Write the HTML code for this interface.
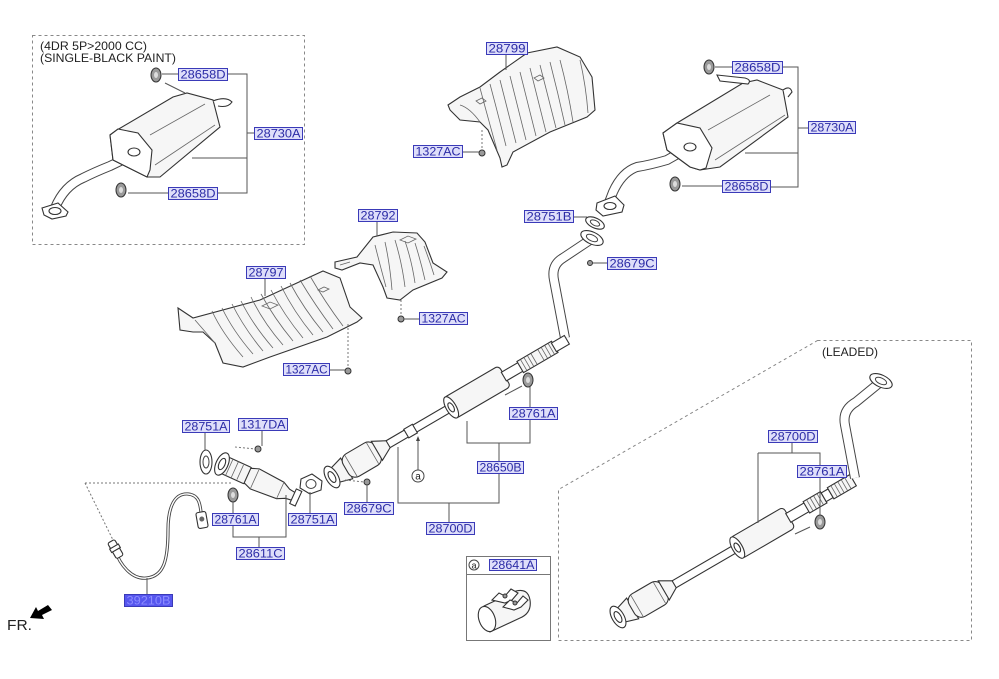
<!DOCTYPE html>
<html><head><meta charset="utf-8"><style>
html,body{margin:0;padding:0;background:#fff;}
svg{display:block;}
.lb rect{fill:#dedefa;stroke:#3a3ab8;stroke-width:1;}
.lb text{font-family:"Liberation Sans",sans-serif;font-size:12px;fill:#2b2ba6;text-anchor:middle;}
.ln{stroke:#555;stroke-width:1;fill:none;}
.dl{stroke:#777;stroke-width:1;fill:none;stroke-dasharray:2,2;}
.bx{stroke:#888;stroke-width:1;fill:none;stroke-dasharray:3,3;}
.p{fill:#f6f6f6;stroke:#333;stroke-width:1.1;}
.pw{fill:#fff;stroke:#333;stroke-width:1.1;}
.rb{fill:none;stroke:#666;stroke-width:0.8;}
.g{fill:#9a9a9a;stroke:#333;stroke-width:1;}
.t{font-family:"Liberation Sans",sans-serif;fill:#222;}
</style></head><body>
<svg width="999" height="679" viewBox="0 0 999 679" xmlns="http://www.w3.org/2000/svg">

<!-- Top-left dashed box -->
<rect class="bx" x="32.5" y="35.5" width="272" height="209"/>
<text class="t" x="40" y="50" font-size="12" textLength="107" lengthAdjust="spacingAndGlyphs">(4DR 5P&gt;2000 CC)</text>
<text class="t" x="40" y="62" font-size="12" textLength="136" lengthAdjust="spacingAndGlyphs">(SINGLE-BLACK PAINT)</text>

<!-- Left muffler -->
<path d="M137,153 L110,166 Q95,172 83,178 Q64,186 55,208" fill="none" stroke="#444" stroke-width="10" stroke-linecap="round"/>
<path d="M137,153 L110,166 Q95,172 83,178 Q64,186 55,208" fill="none" stroke="#fff" stroke-width="8" stroke-linecap="round"/>
<path class="pw" d="M42,208 L58,203 L68,212 L66,216 L52,219 L44,215 Z"/>
<ellipse class="pw" cx="55" cy="211" rx="6" ry="3.5"/>
<path class="p" d="M110,135 L117,130 L173,97 L187,93 L213,100 L220,127 L160,177 L147,177 L113,160 Z"/>
<path class="pw" d="M110,135 L118,129 L138,133 L152,150 L150,170 L147,177 L113,160 Z"/>
<ellipse class="pw" cx="134" cy="152" rx="6" ry="4"/>
<path class="rb" d="M150,135 L205,104 M155,165 L215,125"/>
<path class="pw" d="M213,101 Q226,96 232,102 Q228,108 218,106"/>
<path class="ln" d="M165,83 L185,93"/>
<ellipse class="g" cx="156" cy="75" rx="5" ry="7"/>
<ellipse class="g" cx="121" cy="190" rx="5" ry="7"/>
<ellipse cx="156" cy="75" rx="2" ry="3" fill="#ddd"/>
<ellipse cx="121" cy="190" rx="2" ry="3" fill="#ddd"/>
<path class="ln" d="M162,74 H178 M227,74 H247 V193 H217 M247,133 H254 M192,158 H247 M128,193 H168"/>

<!-- 28799 shield -->
<path class="p" d="M527,53 L557,47 L580,57 L592,77 L595,110 L587,117 L550,132 L513,152 L507,165 L502,167 L500,158 L488,130 L480,122 L460,120 L450,110 L448,105 L460,97 L480,87 L500,72 Z"/>
<path class="rb" d="M480,88 Q488,118 497,150 M490,84 Q498,114 506,146 M500,80 Q508,112 516,143 M510,76 Q518,108 526,140 M520,72 Q528,104 536,136 M530,68 Q538,100 546,132 M540,65 Q548,96 556,128 M550,62 Q558,93 565,125 M560,60 Q568,90 573,122 M580,60 Q586,86 588,113 M460,105 Q470,108 480,122"/>
<path class="rb" d="M476,101 l6,-3 l4,3 l-6,3 z M534,78 l6,-3 l4,3 l-6,3 z"/>
<path class="dl" d="M482,148 V130"/>
<circle class="g" cx="482" cy="153" r="3"/>
<path class="ln" d="M462,152 H479 M506,54 V70"/>

<!-- Right muffler -->
<path d="M690,147 L667,160 Q650,165 637,167 Q622,172 613,192 L608,205" fill="none" stroke="#444" stroke-width="10"/>
<path d="M690,147 L667,160 Q650,165 637,167 Q622,172 613,192 L608,205" fill="none" stroke="#fff" stroke-width="8"/>
<path class="pw" d="M597,203 L615,196 L624,205 L622,212 L603,216 L596,210 Z"/>
<ellipse class="pw" cx="610" cy="206" rx="6" ry="3.5"/>
<path class="p" d="M663,133 L677,123 L743,83 L757,80 L783,90 L788,117 L720,167 L700,170 L690,167 L667,150 Z"/>
<path class="pw" d="M663,133 L677,123 L700,128 L712,148 L706,168 L700,170 L690,167 L667,150 Z"/>
<ellipse class="pw" cx="690" cy="147" rx="6" ry="4"/>
<path class="rb" d="M708,130 L770,95 M715,160 L785,115"/>
<path class="pw" d="M783,90 Q790,85 792,92 L788,97"/>
<path class="pw" d="M717,75 L745,78 Q752,80 748,84 L720,81 Z"/>
<ellipse class="g" cx="709" cy="67" rx="5" ry="7"/>
<ellipse class="g" cx="675" cy="184" rx="5" ry="7"/>
<ellipse cx="709" cy="67" rx="2" ry="3" fill="#ddd"/>
<ellipse cx="675" cy="184" rx="2" ry="3" fill="#ddd"/>
<path class="ln" d="M715,67 H732 M782,67 H798 V187 H770 M798,128 H808 M745,153 H798 M682,186 H722"/>

<!-- 28751B gasket & main bend -->
<ellipse class="pw" cx="595" cy="223" rx="10" ry="5" transform="rotate(25 595 223)"/>
<ellipse cx="595" cy="223" rx="5" ry="2.5" fill="none" stroke="#444" transform="rotate(25 595 223)"/>
<path class="ln" d="M573,217 H587 M593,263 H607"/>
<circle class="g" cx="590" cy="263" r="2.5"/>

<path d="M565,338 L554,280 Q551,265 563,258 L590,240" fill="none" stroke="#444" stroke-width="10"/>
<path d="M565,338 L554,280 Q551,265 563,258 L590,240" fill="none" stroke="#fff" stroke-width="8"/>
<ellipse class="pw" cx="592" cy="238" rx="12" ry="6" transform="rotate(25 592 238)"/>
<ellipse cx="592" cy="238" rx="6" ry="3" fill="none" stroke="#444" transform="rotate(25 592 238)"/>

<!-- 28792 shield -->
<path class="p" d="M335,262 L357,257 L373,237 L393,232 L417,233 L425,242 L433,263 L447,272 L442,278 L413,290 L400,300 L387,298 L383,287 L373,265 L360,263 L342,270 L335,268 Z"/>
<path class="rb" d="M385,242 Q390,265 392,290 M395,240 Q402,263 405,287 M405,241 Q412,262 415,283 M415,243 Q421,262 425,280 M424,246 Q430,262 434,275 M375,245 Q380,265 386,287"/>
<path class="rb" d="M400,240 l8,-4 l8,3 l-8,4 z M340,265 l10,-3"/>
<path class="dl" d="M401,314 V298"/>
<circle class="g" cx="401" cy="319" r="3"/>
<path class="ln" d="M404,319 H419 M377,221 V236"/>

<!-- 28797 shield -->
<path class="p" d="M178,308 L193,318 L260,300 L323,271 L340,278 L350,307 L362,318 L357,322 L327,337 L270,357 L243,367 L223,363 L215,343 L203,332 L193,332 L180,330 Z"/>
<path class="rb" d="M212,311 Q222,333 243,357 M222,308 Q233,331 253,354 M232,304 Q244,328 263,351 M241,301 Q253,325 273,348 M251,297 Q263,322 283,345 M261,294 Q274,318 293,341 M271,290 Q284,315 303,338 M281,286 Q294,312 313,335 M290,283 Q304,309 323,332 M300,280 Q315,305 333,329 M310,276 Q325,302 343,326 M195,320 L215,343"/>
<path class="rb" d="M262,306 l8,-4 l8,3 l-8,4 z M318,290 l6,-3 l5,2 l-6,3 z"/>
<path class="dl" d="M348,366 V322"/>
<circle class="g" cx="348" cy="371" r="3"/>
<path class="ln" d="M329,370 H345 M265,279 V296"/>

<!-- Main assembly -->
<g transform="translate(332,477) rotate(-30.3)">
  <rect class="pw" x="64" y="-4" width="74" height="8"/>
  <rect class="pw" x="86" y="-5" width="10" height="10"/>
  <path class="p" d="M3,-8 L17,-12 L17,12 L3,8 Z"/>
  <rect class="p" x="16" y="-13" width="37" height="26" rx="8"/>
  <path class="rb" d="M22,-12 L22,12 M47,-12 L47,12"/>
  <path class="p" d="M52,-11 L65,-4 L65,4 L52,11 Z"/>
  <rect class="p" x="136" y="-12" width="64" height="24" rx="4"/>
  <ellipse class="pw" cx="138" cy="0" rx="5" ry="12"/>
  <ellipse class="pw" cx="138" cy="0" rx="2.5" ry="5"/>
  <rect class="pw" x="199" y="-5" width="20" height="10"/>
  <rect class="p" x="218" y="-6.5" width="40" height="13"/>
  <path class="rb" d="M222,-6 V6 M226,-6 V6 M230,-6 V6 M234,-6 V6 M242,-6 V6 M246,-6 V6 M250,-6 V6 M254,-6 V6"/>
  <rect class="pw" x="257" y="-5" width="15" height="10"/>
  <ellipse class="pw" cx="0" cy="0" rx="6" ry="12"/>
  <ellipse class="pw" cx="0" cy="0" rx="3" ry="6"/>
</g>
<path class="ln" d="M505,395 L522,386"/>
<ellipse class="g" cx="528" cy="380" rx="5" ry="7"/>
<ellipse cx="528" cy="380" rx="2" ry="3" fill="#ddd"/>
<path class="ln" d="M530,387 V407 M530,420 V443 H467 V421 M499,443 V461 M499,473 V503 H398 V447 M449,503 V522"/>
<path class="ln" d="M418,470 V440"/>
<path d="M418,436 l-2,5 h4 z" fill="#444"/>
<circle cx="418" cy="476" r="6" fill="#fff" stroke="#444"/>
<text class="t" x="418" y="479.5" font-size="10" text-anchor="middle">a</text>

<!-- Bottom-left manifold -->
<path class="dl" d="M85,483 H233 M85,483 L113,540 M235,447 L256,449"/>
<circle class="g" cx="258" cy="449" r="3"/>
<ellipse class="pw" cx="206" cy="462" rx="6" ry="12"/>
<ellipse cx="206" cy="462" rx="3" ry="6" fill="none" stroke="#444"/>
<g transform="translate(222,464) rotate(24.4)">
  <rect class="p" x="2" y="-9" width="28" height="18" rx="3"/>
  <path class="rb" d="M8,-9 V9 M14,-9 V9 M20,-8 V8"/>
  <path class="p" d="M28,-8 L36,-11 L64,-9 L72,-5 L80,-4 L80,4 L72,5 L64,9 L36,11 L28,8 Z"/>
  <path class="rb" d="M36,-10 V10 M64,-9 V9"/>
  <ellipse class="pw" cx="0" cy="0" rx="6" ry="12"/>
  <ellipse class="pw" cx="0" cy="0" rx="3" ry="6"/>
  <path class="pw" d="M78,-8 L84,-8 L84,8 L78,8 Z"/>
</g>
<path class="pw" d="M301,479 L312,474 L322,481 L321,490 L310,494 L300,488 Z"/>
<ellipse cx="311" cy="484" rx="5" ry="4.5" fill="none" stroke="#444"/>
<ellipse class="g" cx="233" cy="495" rx="5" ry="7"/>
<ellipse cx="233" cy="495" rx="2" ry="3" fill="#ddd"/>
<circle class="g" cx="367" cy="482" r="3"/>
<path class="dl" d="M345,480 L364,482"/>
<path class="ln" d="M205,433 V450 M262,431 V446 M233,502 V537 H286 V495 M259,537 V547 M310,513 V492 M367,485 V502"/>

<!-- O2 sensor -->
<path d="M115,550 C120,565 132,580 147,578 C164,576 168,560 168,530 C168,506 175,493 188,494 C199,495 200,504 201,512" fill="none" stroke="#444" stroke-width="3.2"/>
<path d="M115,550 C120,565 132,580 147,578 C164,576 168,560 168,530 C168,506 175,493 188,494 C199,495 200,504 201,512" fill="none" stroke="#fff" stroke-width="1.4"/>
<g transform="translate(116,550) rotate(60)">
  <rect class="pw" x="-10" y="-4" width="18" height="8" rx="2"/>
  <rect class="pw" x="-4" y="-5" width="4" height="10"/>
</g>
<g transform="translate(202,520) rotate(80)">
  <rect class="pw" x="-8" y="-5" width="16" height="10" rx="2"/>
  <circle cx="-1" cy="0" r="2.5" fill="#666"/>
</g>
<path class="ln" d="M147,578 V594"/>

<!-- Leaded region -->
<path class="bx" d="M817.5,340.5 H971.5 V640.5 H558.5 V489.5 Z"/>
<text class="t" x="822" y="356" font-size="12" textLength="56" lengthAdjust="spacingAndGlyphs">(LEADED)</text>

<g transform="translate(618,617) rotate(-30.2)">
  <rect class="pw" x="64" y="-4" width="74" height="8"/>
  <path class="p" d="M4,-8 L17,-12 L17,12 L4,8 Z"/>
  <rect class="p" x="16" y="-13" width="38" height="26" rx="8"/>
  <path class="rb" d="M22,-12 L22,12 M48,-12 L48,12"/>
  <path class="p" d="M53,-11 L65,-4 L65,4 L53,11 Z"/>
  <rect class="p" x="136" y="-12" width="62" height="24" rx="4"/>
  <ellipse class="pw" cx="138" cy="0" rx="5" ry="12"/>
  <ellipse class="pw" cx="138" cy="0" rx="2.5" ry="5"/>
  <rect class="pw" x="197" y="-5" width="22" height="10"/>
  <rect class="p" x="218" y="-6.5" width="20" height="13"/>
  <rect class="pw" x="238" y="-5" width="8" height="10"/>
  <rect class="p" x="246" y="-6.5" width="26" height="13"/>
  <path class="rb" d="M222,-6 V6 M226,-6 V6 M230,-6 V6 M234,-6 V6 M250,-6 V6 M254,-6 V6 M258,-6 V6 M262,-6 V6 M266,-6 V6"/>
  <ellipse class="pw" cx="0" cy="0" rx="6" ry="12"/>
  <ellipse class="pw" cx="0" cy="0" rx="3" ry="6"/>
</g>
<path d="M855,478 L845,425 Q842,410 856,402 L878,384" fill="none" stroke="#444" stroke-width="10"/>
<path d="M855,478 L845,425 Q842,410 856,402 L878,384" fill="none" stroke="#fff" stroke-width="8"/>
<ellipse class="pw" cx="881" cy="381" rx="12" ry="6" transform="rotate(25 881 381)"/>
<ellipse cx="881" cy="381" rx="6" ry="3" fill="none" stroke="#444" transform="rotate(25 881 381)"/>
<path class="ln" d="M795,534 L810,527"/>
<ellipse class="g" cx="820" cy="522" rx="5" ry="7"/>
<ellipse cx="820" cy="522" rx="2" ry="3" fill="#ddd"/>
<path class="ln" d="M792,443 V453 M758,453 H820 V515 M758,453 V523"/>

<!-- Clamp box -->
<rect x="466.5" y="556.5" width="84" height="84" fill="#fff" stroke="#777"/>
<path d="M466.5,574.5 H550.5" stroke="#777"/>
<circle cx="474" cy="565" r="5" fill="#fff" stroke="#444"/>
<text class="t" x="474" y="568.5" font-size="9" text-anchor="middle">a</text>
<path class="p" d="M484,606 L516,591 Q528,588 530,600 Q532,613 520,618 L490,632 Z"/>
<ellipse class="pw" cx="487" cy="619" rx="8" ry="13" transform="rotate(-20 487 619)"/>
<path class="pw" d="M492,600 L499,593 L505,596 L511,589 L518,593 L512,600 L505,603 Z"/>
<path class="pw" d="M503,607 L510,600 L517,603 L523,596 L528,600 L521,607 L514,610 Z"/>
<circle class="g" cx="505" cy="596" r="2"/>
<circle class="g" cx="515" cy="603" r="2"/>

<!-- FR arrow -->
<text class="t" x="7" y="630" font-size="15" textLength="25" lengthAdjust="spacingAndGlyphs">FR.</text>
<path d="M30,618 L36,607 L38,611 L48,605 L52,610 L42,615 L44,619 Z" fill="#000"/>

<!-- Labels -->
<g class="lb">
<rect x="178.5" y="68.5" width="49" height="12"/><text x="203" y="78.5" textLength="45" lengthAdjust="spacingAndGlyphs">28658D</text>
<rect x="254.5" y="127.5" width="48" height="12"/><text x="278.5" y="137.5" textLength="44" lengthAdjust="spacingAndGlyphs">28730A</text>
<rect x="168.5" y="187.5" width="49" height="12"/><text x="193" y="197.5" textLength="45" lengthAdjust="spacingAndGlyphs">28658D</text>
<rect x="486.5" y="42.5" width="41" height="12"/><text x="507" y="52.5" textLength="37" lengthAdjust="spacingAndGlyphs">28799</text>
<rect x="413.5" y="145.5" width="49" height="12"/><text x="438" y="155.5" textLength="45" lengthAdjust="spacingAndGlyphs">1327AC</text>
<rect x="732.5" y="61.5" width="50" height="12"/><text x="757.5" y="71.5" textLength="46" lengthAdjust="spacingAndGlyphs">28658D</text>
<rect x="808.5" y="121.5" width="47" height="12"/><text x="832" y="131.5" textLength="43" lengthAdjust="spacingAndGlyphs">28730A</text>
<rect x="722.5" y="180.5" width="48" height="12"/><text x="746.5" y="190.5" textLength="44" lengthAdjust="spacingAndGlyphs">28658D</text>
<rect x="524.5" y="210.5" width="49" height="12"/><text x="549" y="220.5" textLength="45" lengthAdjust="spacingAndGlyphs">28751B</text>
<rect x="607.5" y="257.5" width="49" height="12"/><text x="632" y="267.5" textLength="45" lengthAdjust="spacingAndGlyphs">28679C</text>
<rect x="358.5" y="209.5" width="39" height="12"/><text x="378" y="219.5" textLength="35" lengthAdjust="spacingAndGlyphs">28792</text>
<rect x="246.5" y="266.5" width="39" height="12"/><text x="266" y="276.5" textLength="35" lengthAdjust="spacingAndGlyphs">28797</text>
<rect x="419.5" y="312.5" width="48" height="12"/><text x="443.5" y="322.5" textLength="44" lengthAdjust="spacingAndGlyphs">1327AC</text>
<rect x="283.5" y="363.5" width="46" height="12"/><text x="306.5" y="373.5" textLength="42" lengthAdjust="spacingAndGlyphs">1327AC</text>
<rect x="182.5" y="420.5" width="47" height="12"/><text x="206" y="430.5" textLength="43" lengthAdjust="spacingAndGlyphs">28751A</text>
<rect x="238.5" y="418.5" width="49" height="12"/><text x="263" y="428.5" textLength="45" lengthAdjust="spacingAndGlyphs">1317DA</text>
<rect x="212.5" y="513.5" width="46" height="12"/><text x="235.5" y="523.5" textLength="42" lengthAdjust="spacingAndGlyphs">28761A</text>
<rect x="288.5" y="513.5" width="48" height="12"/><text x="312.5" y="523.5" textLength="44" lengthAdjust="spacingAndGlyphs">28751A</text>
<rect x="236.5" y="547.5" width="48" height="12"/><text x="260.5" y="557.5" textLength="44" lengthAdjust="spacingAndGlyphs">28611C</text>
<rect x="344.5" y="502.5" width="49" height="12"/><text x="369" y="512.5" textLength="45" lengthAdjust="spacingAndGlyphs">28679C</text>
<rect x="509.5" y="407.5" width="48" height="12"/><text x="533.5" y="417.5" textLength="44" lengthAdjust="spacingAndGlyphs">28761A</text>
<rect x="477.5" y="461.5" width="46" height="12"/><text x="500.5" y="471.5" textLength="42" lengthAdjust="spacingAndGlyphs">28650B</text>
<rect x="426.5" y="522.5" width="48" height="12"/><text x="450.5" y="532.5" textLength="44" lengthAdjust="spacingAndGlyphs">28700D</text>
<rect x="768.5" y="430.5" width="49" height="12"/><text x="793" y="440.5" textLength="45" lengthAdjust="spacingAndGlyphs">28700D</text>
<rect x="797.5" y="465.5" width="49" height="12"/><text x="822" y="475.5" textLength="45" lengthAdjust="spacingAndGlyphs">28761A</text>
<rect x="489.5" y="559.5" width="47" height="11"/><text x="513" y="569" textLength="43" lengthAdjust="spacingAndGlyphs" font-size="11">28641A</text>
</g>
<rect x="124.5" y="594.5" width="48" height="12" fill="#5656ee" stroke="#3a3ab8"/>
<text x="148.5" y="604.5" font-family="Liberation Sans, sans-serif" font-size="12" fill="#8c8cff" text-anchor="middle" textLength="44" lengthAdjust="spacingAndGlyphs">39210B</text>

</svg>
</body></html>
